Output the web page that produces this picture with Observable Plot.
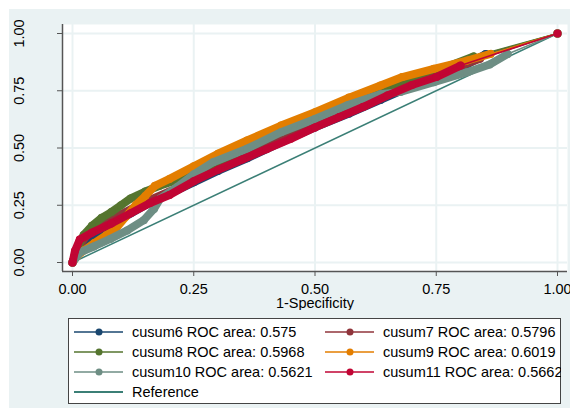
<!DOCTYPE html>
<html>
<head>
<meta charset="utf-8">
<script src="https://cdn.jsdelivr.net/npm/d3@7"></script>
<script src="https://cdn.jsdelivr.net/npm/@observablehq/plot@0.6"></script>
<style>
  html, body { margin: 0; padding: 0; background: #ffffff; }
  #wrap { position: relative; width: 570px; height: 408px; overflow: hidden; font-family: "Liberation Sans", Arial, sans-serif; }
  #bg { position: absolute; left: 9px; top: 9px; width: 561px; height: 399px; background: #eaf2f3; }
  #chart { position: absolute; left: 0; top: 0; }
  #legend { position: absolute; left: 68px; top: 318px; }
</style>
</head>
<body>
<div id="wrap">
  <div id="bg"></div>
  <div id="chart"></div>
  <div id="legend"></div>
</div>
<script>
// ---- data ----
const seriesNames = ["cusum6", "cusum7", "cusum8", "cusum9", "cusum10", "cusum11"];
const rocAreas = [0.575, 0.5796, 0.5968, 0.6019, 0.5621, 0.5662];
const seriesColors = ["#1a476f", "#90353b", "#55752f", "#e37e00", "#6e8e84", "#c10534"];
const referenceColor = "#3b7f76";

const fpr6 = [0, 0.01, 0.03, 0.06, 0.1, 0.15, 0.2, 0.25, 0.3, 0.36, 0.43, 0.5, 0.57, 0.635, 0.7, 0.76, 0.81, 0.852, 1];
const tpr6 = [0, 0.05, 0.1, 0.14, 0.19, 0.25, 0.3, 0.35, 0.4, 0.455, 0.525, 0.59, 0.65, 0.71, 0.77, 0.82, 0.86, 0.91, 1];

const fpr7 = [0, 0.01, 0.03, 0.06, 0.1, 0.15, 0.2, 0.25, 0.3, 0.36, 0.43, 0.5, 0.57, 0.635, 0.7, 0.76, 0.84, 1];
const tpr7 = [0, 0.06, 0.12, 0.16, 0.21, 0.265, 0.31, 0.36, 0.41, 0.47, 0.54, 0.6, 0.66, 0.72, 0.775, 0.825, 0.89, 1];

const fpr8 = [0, 0.01, 0.023, 0.04, 0.06, 0.08, 0.1, 0.12, 0.15, 0.18, 0.25, 0.3, 0.36, 0.43, 0.5, 0.57, 0.635, 0.7, 0.76, 0.827, 1];
const tpr8 = [0, 0.06, 0.12, 0.16, 0.195, 0.22, 0.25, 0.28, 0.31, 0.335, 0.385, 0.44, 0.5, 0.57, 0.63, 0.69, 0.75, 0.8, 0.845, 0.9, 1];

const fpr9 = [0, 0.01, 0.025, 0.045, 0.07, 0.09, 0.11, 0.13, 0.15, 0.17, 0.2, 0.25, 0.3, 0.36, 0.43, 0.5, 0.57, 0.635, 0.68, 0.745, 0.814, 0.862, 1];
const tpr9 = [0, 0.03, 0.055, 0.085, 0.12, 0.15, 0.2, 0.25, 0.29, 0.335, 0.365, 0.42, 0.475, 0.533, 0.598, 0.656, 0.72, 0.773, 0.81, 0.846, 0.882, 0.911, 1];

const fpr10 = [0, 0.016, 0.044, 0.078, 0.113, 0.147, 0.168, 0.181, 0.216, 0.25, 0.29, 0.36, 0.43, 0.5, 0.566, 0.635, 0.676, 0.745, 0.814, 0.86, 0.897, 1];
const tpr10 = [0, 0.045, 0.07, 0.103, 0.14, 0.185, 0.234, 0.28, 0.33, 0.385, 0.438, 0.497, 0.569, 0.627, 0.686, 0.735, 0.745, 0.787, 0.831, 0.865, 0.91, 1];

const fpr11 = [0, 0.005, 0.015, 0.04, 0.08, 0.12, 0.16, 0.2, 0.25, 0.3, 0.35, 0.4, 0.45, 0.5, 0.55, 0.6, 0.65, 0.7, 0.75, 0.8, 1];
const tpr11 = [0, 0.05, 0.1, 0.13, 0.17, 0.215, 0.26, 0.295, 0.355, 0.405, 0.45, 0.495, 0.54, 0.59, 0.635, 0.68, 0.73, 0.775, 0.81, 0.86, 1];

const refX = [0, 1];
const refY = [0, 1];

const xTicks = [0, 0.25, 0.5, 0.75, 1];
const yTicks = [0, 0.25, 0.5, 0.75, 1];
const xLabel = "1-Specificity";
const referenceLabel = "Reference";

// ---- build tables ----
const fprs = [fpr6, fpr7, fpr8, fpr9, fpr10, fpr11];
const tprs = [tpr6, tpr7, tpr8, tpr9, tpr10, tpr11];
const curves = seriesNames.map((name, k) =>
  fprs[k].map((x, i) => ({ name, x, y: tprs[k][i], last: i === fprs[k].length - 1 }))
);
const refData = refX.map((x, i) => ({ x, y: refY[i] }));

const fmt = d3.format(".2f");
const xDom = [-10 / 485, 1 + 10 / 485];
const yDom = [-9 / 229, 1 + 9 / 229];

const curveMarks = [];
curves.forEach((pts, k) => {
  const c = seriesColors[k];
  curveMarks.push(
    Plot.line(pts.filter(d => !d.last), { x: "x", y: "y", stroke: c, strokeWidth: 8, strokeLinejoin: "round", strokeLinecap: "round" }),
    Plot.line(pts, { x: "x", y: "y", stroke: c, strokeWidth: 1.6 }),
    Plot.dot(pts, { x: "x", y: "y", r: 4, fill: c, stroke: "none" })
  );
});

const chart = Plot.plot({
  width: 570,
  height: 310,
  marginLeft: 62,
  marginRight: 3,
  marginTop: 24,
  marginBottom: 39,
  style: { background: "transparent", fontFamily: "'Liberation Sans', Arial, sans-serif", fontSize: "14.5px", color: "#000" },
  x: { domain: xDom, label: null },
  y: { domain: yDom, label: null },
  marks: [
    Plot.frame({ fill: "#ffffff", stroke: "none" }),
    Plot.gridX(xTicks, { stroke: "#eaf2f3", strokeOpacity: 1, strokeWidth: 2 }),
    Plot.gridY(yTicks, { stroke: "#eaf2f3", strokeOpacity: 1, strokeWidth: 2 }),
    Plot.ruleX([xDom[0]], { stroke: "#555", strokeWidth: 1.5 }),
    Plot.ruleY([yDom[0]], { stroke: "#555", strokeWidth: 1.5 }),
    Plot.axisX({ ticks: xTicks, tickFormat: fmt, tickSize: 5, tickPadding: 7, stroke: "#555", fill: "#000", label: null }),
    Plot.axisY({ ticks: yTicks, tickFormat: fmt, tickSize: 5, tickPadding: 34, tickRotate: -90, stroke: "#555", fill: "#000", label: null }),
    Plot.text([xLabel], { frameAnchor: "bottom", lineAnchor: "bottom", dy: 36, fill: "#000", fontSize: 14.5 }),
    Plot.line(refData, { x: "x", y: "y", stroke: referenceColor, strokeWidth: 1.5 }),
    ...curveMarks
  ]
});
document.getElementById("chart").appendChild(chart);

// ---- legend ----
const lw = 493, lh = 86;
const leg = d3.select("#legend").append("svg")
  .attr("width", lw).attr("height", lh)
  .style("display", "block");
leg.append("rect").attr("x", 0.5).attr("y", 0.5).attr("width", lw - 1).attr("height", lh - 1)
  .attr("fill", "#ffffff").attr("stroke", "#444").attr("stroke-width", 1);
const items = seriesNames.map((n, k) => ({ label: `${n} ROC area: ${rocAreas[k]}`, color: seriesColors[k], dot: true }));
items.push({ label: referenceLabel, color: referenceColor, dot: false });
const colX = [6, 257];
items.forEach((it, i) => {
  const col = i % 2, row = Math.floor(i / 2);
  const x0 = colX[col], cy = 14 + row * 20;
  const g = leg.append("g");
  g.append("line").attr("x1", x0).attr("x2", x0 + 49).attr("y1", cy).attr("y2", cy)
    .attr("stroke", it.color).attr("stroke-width", it.dot ? 1.5 : 2);
  if (it.dot) g.append("circle").attr("cx", x0 + 25).attr("cy", cy).attr("r", 3.5).attr("fill", it.color);
  g.append("text").attr("x", x0 + 58).attr("y", cy + 5)
    .attr("font-family", "'Liberation Sans', Arial, sans-serif").attr("font-size", 14.5)
    .attr("fill", "#000").text(it.label);
});
</script>
</body>
</html>
